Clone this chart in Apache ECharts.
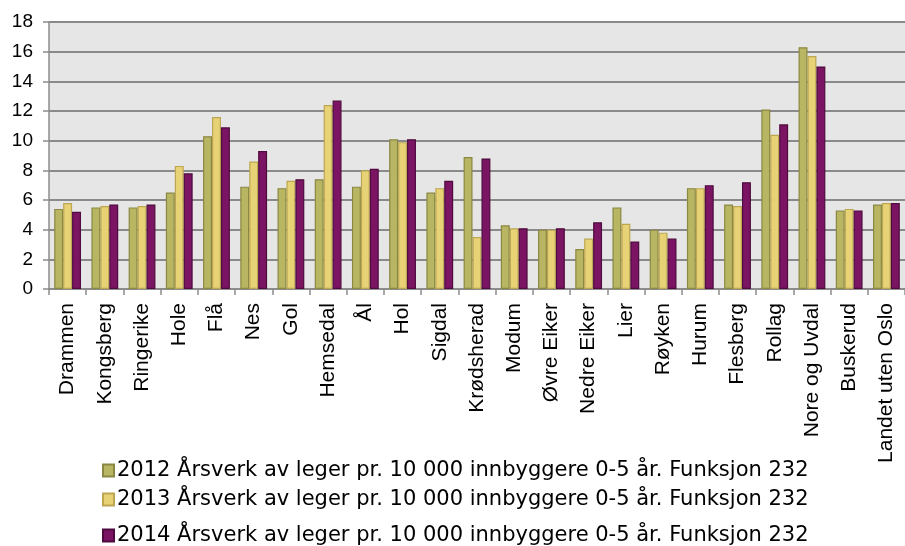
<!DOCTYPE html>
<html>
<head>
<meta charset="utf-8">
<script src="https://cdn.jsdelivr.net/npm/echarts@6/dist/echarts.min.js"></script>
<style>
html,body{margin:0;padding:0;background:#fff;}
#c{width:905px;height:546px;}
</style>
</head>
<body>
<div id="c"></div>
<script>
const categories = ["Drammen","Kongsberg","Ringerike","Hole","Flå","Nes","Gol","Hemsedal","Ål","Hol","Sigdal","Krødsherad","Modum","Øvre Eiker","Nedre Eiker","Lier","Røyken","Hurum","Flesberg","Rollag","Nore og Uvdal","Buskerud","Landet uten Oslo"];
const seriesNames = [
  "2012 Årsverk av leger pr. 10 000 innbyggere 0-5 år. Funksjon 232",
  "2013 Årsverk av leger pr. 10 000 innbyggere 0-5 år. Funksjon 232",
  "2014 Årsverk av leger pr. 10 000 innbyggere 0-5 år. Funksjon 232"
];
const values2012 = [5.4,5.5,5.5,6.5,10.3,6.9,6.8,7.4,6.9,10.1,6.5,8.9,4.3,4.0,2.7,5.5,4.0,6.8,5.7,12.1,16.3,5.3,5.7];
const values2013 = [5.8,5.6,5.6,8.3,11.6,8.6,7.3,12.4,8.0,9.9,6.8,3.5,4.1,4.0,3.4,4.4,3.8,6.8,5.6,10.4,15.7,5.4,5.8];
const values2014 = [5.2,5.7,5.7,7.8,10.9,9.3,7.4,12.7,8.1,10.1,7.3,8.8,4.1,4.1,4.5,3.2,3.4,7.0,7.2,11.1,15.0,5.3,5.8];
const yTicks = {min:0, max:18, interval:2};

const fills = ["#b8b563","#e8d276","#7b1563"];
const borders = ["#8a8842","#bca652","#4f0b3f"];
const seriesData = [values2012, values2013, values2014];

const chart = echarts.init(document.getElementById('c'), null, {renderer:'canvas'});
const font = "'Liberation Sans', Arial, sans-serif";
const legendFont = "'DejaVu Sans', 'Liberation Sans', sans-serif";
const legendTops = [460, 489, 525];

chart.setOption({
  animation:false,
  backgroundColor:'#ffffff',
  textStyle:{fontFamily:font},
  grid:{left:49, right:0, top:22, bottom:257, show:true, backgroundColor:'#e6e6e6', borderWidth:0},
  legend: seriesNames.map((n,i)=>({
    data:[n], left:102, top:legendTops[i], orient:'vertical',
    itemWidth:11, itemHeight:12, itemGap:0, padding:0,
    icon:'rect',
    textStyle:{fontSize:21, color:'#000', fontFamily:legendFont, padding:[0,0,0,-2]}
  })),
  xAxis:{
    type:'category', data:categories,
    axisLine:{lineStyle:{color:'#8c8c8c', width:2}},
    axisTick:{show:true, length:6, lineStyle:{color:'#8c8c8c', width:1.5}},
    axisLabel:{rotate:90, interval:0, fontSize:21, color:'#000', margin:14, fontFamily:font}
  },
  yAxis:{
    type:'value', min:yTicks.min, max:yTicks.max, interval:yTicks.interval,
    axisLine:{show:true, lineStyle:{color:'#8c8c8c', width:1.5}},
    axisTick:{show:true, length:6, lineStyle:{color:'#8c8c8c', width:1.5}},
    splitLine:{lineStyle:{color:'#8a8a8a', width:2}},
    axisLabel:{fontSize:19, color:'#000', margin:16, fontFamily:font}
  },
  series: seriesData.map((d,i)=>({
    name:seriesNames[i], type:'bar', data:d,
    barGap:'0%', barCategoryGap:'28%',
    itemStyle:{color:fills[i], borderColor:borders[i], borderWidth:1.2}
  }))
});
</script>
</body>
</html>
